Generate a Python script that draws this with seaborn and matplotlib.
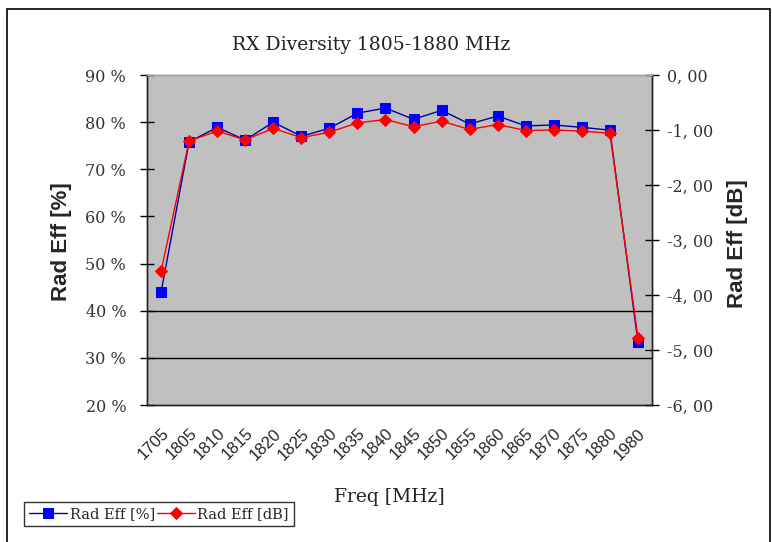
import numpy as np
import pandas as pd
import seaborn as sns
import matplotlib
matplotlib.use('Agg')
import matplotlib.pyplot as plt
from matplotlib.patches import Rectangle

freqs = ['1705', '1805', '1810', '1815', '1820', '1825', '1830', '1835', '1840',
         '1845', '1850', '1855', '1860', '1865', '1870', '1875', '1880', '1980']
eff_pct = [43.9, 75.8, 78.9, 76.2, 80.0, 77.0, 78.7, 81.9, 83.0,
           80.6, 82.5, 79.6, 81.3, 79.2, 79.4, 78.9, 78.3, 33.3]
eff_db = [-3.57, -1.20, -1.02, -1.18, -0.97, -1.14, -1.04, -0.87, -0.81,
          -0.94, -0.84, -0.99, -0.90, -1.01, -1.00, -1.02, -1.06, -4.78]
pct_ticks = [20, 30, 40, 50, 60, 70, 80, 90]
db_ticks = [-6, -5, -4, -3, -2, -1, 0]

df = pd.DataFrame({'pos': np.arange(len(freqs)), 'pct': eff_pct, 'db': eff_db})

sns.set_style('white')
plt.rcParams['font.family'] = ['DejaVu Serif', 'Liberation Serif']

W, H = 772, 542
fig = plt.figure(figsize=(W / 100, H / 100), dpi=100)
ax = fig.add_axes([147 / W, 1 - 405 / H, (652 - 147) / W, (405 - 75) / H])
ax.set_facecolor('#C0C0C0')
ax2 = ax.twinx()

for v in (30, 40):
    ax.axhline(v, color='black', lw=1, zorder=1)

sns.lineplot(data=df, x='pos', y='pct', ax=ax, color='#0000A0', lw=1,
             marker='s', markersize=7.5, markerfacecolor='#0000FF',
             markeredgecolor='#0000FF', label='Rad Eff [%]', legend=False, zorder=3)
sns.lineplot(data=df, x='pos', y='db', ax=ax2, color='#FF0000', lw=1,
             marker='D', markersize=6, markerfacecolor='#FF0000',
             markeredgecolor='#FF0000', label='Rad Eff [dB]', legend=False, zorder=3)

ax.set_xlim(-0.5, len(freqs) - 0.5)
ax.set_ylim(20, 90)
ax2.set_ylim(-6, 0)

ax.set_xticks(df['pos'])
ax.set_xticklabels(freqs, rotation=45, ha='right', rotation_mode='anchor',
                   family='Liberation Sans', fontsize=12)
ax.set_xticks(np.arange(-0.5, len(freqs)), minor=True)
ax.tick_params(axis='x', which='major', length=0, pad=15)
ax.tick_params(axis='x', which='minor', length=8, direction='inout', width=1, color='black')

ax.set_yticks(pct_ticks)
ax.set_yticklabels([f'{v} %' for v in pct_ticks], fontsize=11.5, color='#333333')
ax.tick_params(axis='y', length=10, direction='inout', width=1, color='black', pad=10)

ax2.set_yticks(db_ticks)
ax2.set_yticklabels([f'{v:.2f}'.replace('.', ', ') for v in db_ticks], fontsize=11.5, color='#333333')
ax2.tick_params(axis='y', length=10, direction='inout', width=1, color='black', pad=6)

ax.set_xlabel('')
ax.set_ylabel('')
ax2.set_ylabel('')

for a in (ax, ax2):
    for s in a.spines.values():
        s.set_color('#222222')
        s.set_linewidth(1)
    a.spines['top'].set_color('#A0A0A0')

fig.text(371 / W, 1 - 45 / H, 'RX Diversity 1805-1880 MHz', ha='center', va='center',
         fontsize=13.5, color='#222222')
fig.text(389 / W, 1 - 497 / H, 'Freq [MHz]', ha='center', va='center',
         fontsize=13.5, color='#222222')
fig.text(62 / W, 1 - 242 / H, 'Rad Eff [%]', rotation=90, ha='center', va='center',
         fontsize=16, fontweight='bold', family='Liberation Sans')
fig.text(738 / W, 1 - 244 / H, 'Rad Eff [dB]', rotation=90, ha='center', va='center',
         fontsize=16, fontweight='bold', family='Liberation Sans')

h1, l1 = ax.get_legend_handles_labels()
h2, l2 = ax2.get_legend_handles_labels()
leg = fig.legend(h1 + h2, l1 + l2, ncol=2, loc='lower left',
                 bbox_to_anchor=(24 / W, 1 - 526 / H), frameon=True, fancybox=False,
                 edgecolor='black', fontsize=10.5, handlelength=2.6, handletextpad=0.2,
                 columnspacing=0.1, borderpad=0.35, borderaxespad=0)
leg.get_frame().set_linewidth(1)

fig.patches.append(Rectangle((7 / W, -0.05), (770 - 7) / W, 1.05 - 9 / H,
                             transform=fig.transFigure, fill=False,
                             edgecolor='black', lw=1.2))

fig.savefig('out.png', dpi=100)
